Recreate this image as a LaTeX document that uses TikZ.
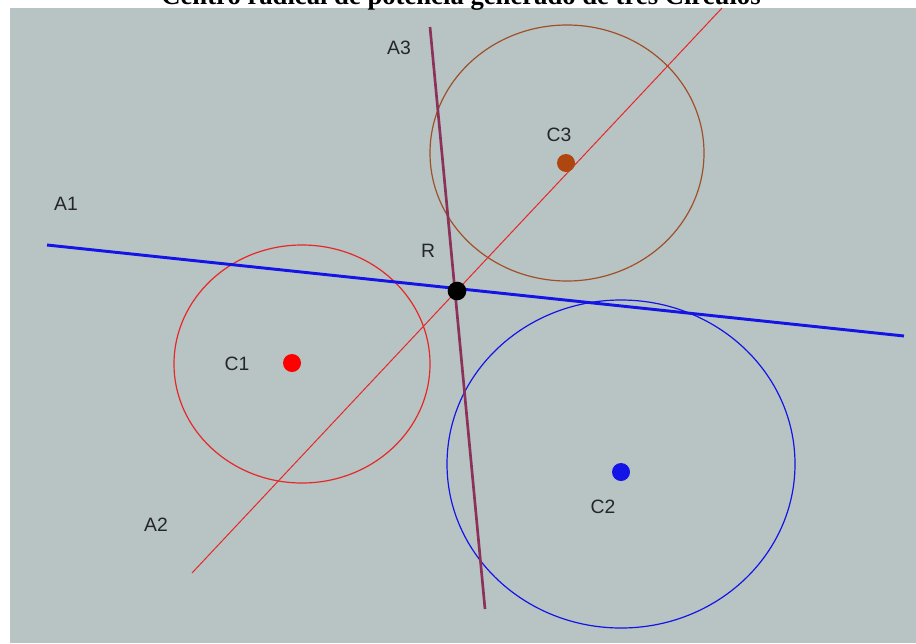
\documentclass[tikz,border=0pt]{standalone}
\usepackage{fontspec}
\setmainfont{Liberation Serif}
\setsansfont{Liberation Sans}
\definecolor{panel}{RGB}{184,196,196}
\definecolor{cred}{RGB}{230,40,40}
\definecolor{cblue}{RGB}{20,20,230}
\definecolor{cbrown}{RGB}{160,80,40}
\definecolor{cdotbrown}{RGB}{175,70,15}
\definecolor{cpurple}{RGB}{140,50,90}
\tikzset{
  lbl/.style={font=\sffamily\fontsize{14.5}{16}\selectfont, text=black!85, inner sep=0pt},
  dotnode/.style={circle, inner sep=0pt, minimum size=13.5pt},
}
\begin{document}
\begin{tikzpicture}[x=0.75pt,y=-0.75pt]
\useasboundingbox (0,0) rectangle (916,643);
\fill[white] (0,0) rectangle (916,643);
\fill[panel] (10,8) rectangle (916,643);
\node[anchor=base, font=\bfseries\fontsize{20}{22}\selectfont, inner sep=0pt] (title) at (461,4) {Centro radical de potencia generado de tres Círculos};

% circles
\draw[cred, line width=0.9pt] (302,364) ellipse [x radius=128, y radius=119];
\draw[cblue, line width=0.9pt] (621,464) ellipse [x radius=174, y radius=164];
\draw[cbrown, line width=0.9pt] (567,153) ellipse [x radius=137, y radius=128];

% lines
\coordinate (a1s) at (47,245);
\coordinate (a1e) at (904,336);
\coordinate (a2s) at (192,573);
\coordinate (a2e) at (722,8);
\coordinate (a3s) at (430,27);
\coordinate (a3e) at (485,609);
\draw[cred, line width=0.75pt] (a2s) -- (a2e);
\draw[cpurple, line width=2pt] (a3s) -- (a3e);
\draw[cblue, line width=2.2pt] (a1s) -- (a1e);

% points
\node[dotnode, fill=red] (c1) at (292,363) {};
\node[dotnode, fill=cblue] (c2) at (621,472) {};
\node[dotnode, fill=cdotbrown] (c3) at (566,163) {};
\node[dotnode, fill=black, minimum size=14pt] (r) at (457,291) {};

% labels
\node[lbl] (la1) at (66,204) {A1};
\node[lbl] (la2) at (156,525) {A2};
\node[lbl] (la3) at (399,48) {A3};
\node[lbl] (lc1) at (237,364) {C1};
\node[lbl] (lc2) at (603,507) {C2};
\node[lbl] (lc3) at (559,135) {C3};
\node[lbl] (lr) at (428,251) {R};
\end{tikzpicture}
\end{document}
